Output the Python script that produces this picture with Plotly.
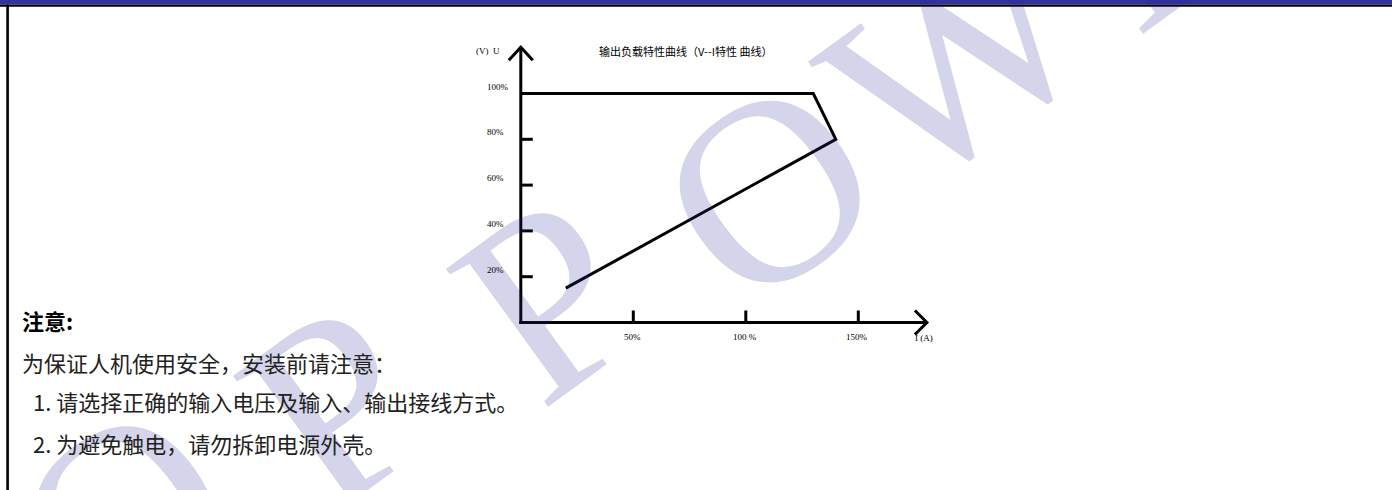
import plotly.graph_objects as go

W, H = 1392, 490

# ---------------- data ----------------
current_pct = [0, 130, 140, 20]      # I (%)
voltage_pct = [100, 100, 80, 15]     # U (%)

y_ticks = [20, 40, 60, 80, 100]
y_tick_labels = ["20%", "40%", "60%", "80%", "100%"]
y_tick_marks = [20, 40, 60, 80]
x_ticks = [50, 100, 150]
x_tick_labels = ["50%", "100 %", "150%"]

title_text = "输出负载特性曲线（V--I特性 曲线）"
y_axis_label = "(V)  U"
x_axis_label = "I (A)"
notes_heading = "注意:"
notes_lines = [
    "为保证人机使用安全，安装前请注意：",
    "1. 请选择正确的输入电压及输入、输出接线方式。",
    "2. 为避免触电，请勿拆卸电源外壳。",
]
watermark_letters = ["O", "P", "P", "O", "W", "E"]
watermark_centers_px = [(125, 515), (335, 405), (548, 298), (768, 190), (958, 56), (1150, -80)]

# ---------------- layout geometry ----------------
X0_PX, PX_PER_I = 520.8, 2.25
Y0_PX, PX_PER_U = 322.5, 2.29
x_range = [-X0_PX / PX_PER_I, (W - X0_PX) / PX_PER_I]
y_range = [-(H - Y0_PX) / PX_PER_U, Y0_PX / PX_PER_U]
U_TIP, I_TIP = 120.2, 180.5
ARM_I, ARM_U = 12 / PX_PER_I, 12 / PX_PER_U


def px(x):
    return x / W


def py(y):
    return 1 - y / H


fig = go.Figure()
fig.add_trace(go.Scatter(
    x=current_pct, y=voltage_pct, mode="lines",
    line=dict(color="black", width=3), cliponaxis=False,
    hoverinfo="skip", showlegend=False,
))

shapes = []
# header bars and left border
shapes.append(dict(type="rect", xref="paper", yref="paper", x0=0, x1=1, y0=py(4.7), y1=1,
                   fillcolor="#333399", line_width=0, layer="below"))
shapes.append(dict(type="rect", xref="paper", yref="paper", x0=0, x1=1, y0=py(6.8), y1=py(4.7),
                   fillcolor="black", line_width=0, layer="below"))
shapes.append(dict(type="rect", xref="paper", yref="paper", x0=px(6.3), x1=px(8.9), y0=0, y1=py(4.7),
                   fillcolor="black", line_width=0, layer="below"))
axis_line = dict(color="black", width=3)
# axes
shapes.append(dict(type="line", xref="x", yref="y", x0=0, x1=0, y0=-1.5 / PX_PER_U, y1=U_TIP, line=axis_line))
shapes.append(dict(type="line", xref="x", yref="y", x0=-1.5 / PX_PER_I, x1=I_TIP, y0=0, y1=0, line=axis_line))
for t in y_tick_marks:
    shapes.append(dict(type="line", xref="x", yref="y", x0=0, x1=12 / PX_PER_I, y0=t, y1=t, line=axis_line))
for t in x_ticks:
    shapes.append(dict(type="line", xref="x", yref="y", x0=t, x1=t, y0=0, y1=12 / PX_PER_U, line=axis_line))
# arrow heads
shapes.append(dict(type="path", xref="x", yref="y", line=axis_line,
                   path=f"M {-ARM_I} {U_TIP - 13 / PX_PER_U} L 0 {U_TIP} L {ARM_I} {U_TIP - 13 / PX_PER_U}"))
shapes.append(dict(type="path", xref="x", yref="y", line=axis_line,
                   path=f"M {I_TIP - ARM_I} {ARM_U} L {I_TIP} 0 L {I_TIP - ARM_I} {-ARM_U}"))

ann = []
# watermark (one letter per annotation)
for ch, (cx, cy) in zip(watermark_letters, watermark_centers_px):
    ann.append(dict(xref="paper", yref="paper", x=px(cx), y=py(cy), text=ch,
                    showarrow=False, textangle=-36, xanchor="center", yanchor="middle",
                    font=dict(family="Liberation Serif", size=262, color="rgba(40,40,150,0.2)")))
serif = dict(family="Liberation Serif", size=9, color="black")
for v, lab in zip(y_ticks, y_tick_labels):
    ann.append(dict(xref="x", yref="y", x=(485 - X0_PX) / PX_PER_I, y=v, yshift=7, text=lab,
                    showarrow=False, xanchor="left", yanchor="middle", font=serif))
for v, lab in zip(x_ticks, x_tick_labels):
    ann.append(dict(xref="x", yref="y", x=v, y=0, yshift=-14.5, xshift=-1, text=lab,
                    showarrow=False, xanchor="center", yanchor="middle", font=serif))
ann.append(dict(xref="paper", yref="paper", x=px(924), y=py(338), text=x_axis_label,
                showarrow=False, xanchor="center", yanchor="middle", font=serif))
ann.append(dict(xref="paper", yref="paper", x=px(488), y=py(51), text=y_axis_label,
                showarrow=False, xanchor="center", yanchor="middle", font=serif))
ann.append(dict(xref="paper", yref="paper", x=px(685), y=py(51), text=title_text,
                showarrow=False, xanchor="center", yanchor="middle",
                font=dict(family="Noto Sans CJK SC", size=11, color="black")))
# notes
cjk = "Noto Sans CJK SC"
ann.append(dict(xref="paper", yref="paper", x=px(20), y=py(320), text=f"<b>{notes_heading}</b>",
                showarrow=False, xanchor="left", yanchor="middle",
                font=dict(family=cjk, size=22, color="black")))
for (xx, yy), line in zip([(20, 362), (31, 401), (31, 443)], notes_lines):
    ann.append(dict(xref="paper", yref="paper", x=px(xx), y=py(yy), text=line,
                    showarrow=False, xanchor="left", yanchor="middle",
                    font=dict(family=cjk, size=22, color="#222222")))

fig.update_layout(
    width=W, height=H, margin=dict(l=0, r=0, t=0, b=0),
    paper_bgcolor="white", plot_bgcolor="white",
    xaxis=dict(range=x_range, visible=False, fixedrange=True),
    yaxis=dict(range=y_range, visible=False, fixedrange=True),
    shapes=shapes, annotations=ann,
)
fig.write_html("out.html", config={"displayModeBar": False},
               post_script="document.body.style.margin='0';document.body.style.overflow='hidden';")
